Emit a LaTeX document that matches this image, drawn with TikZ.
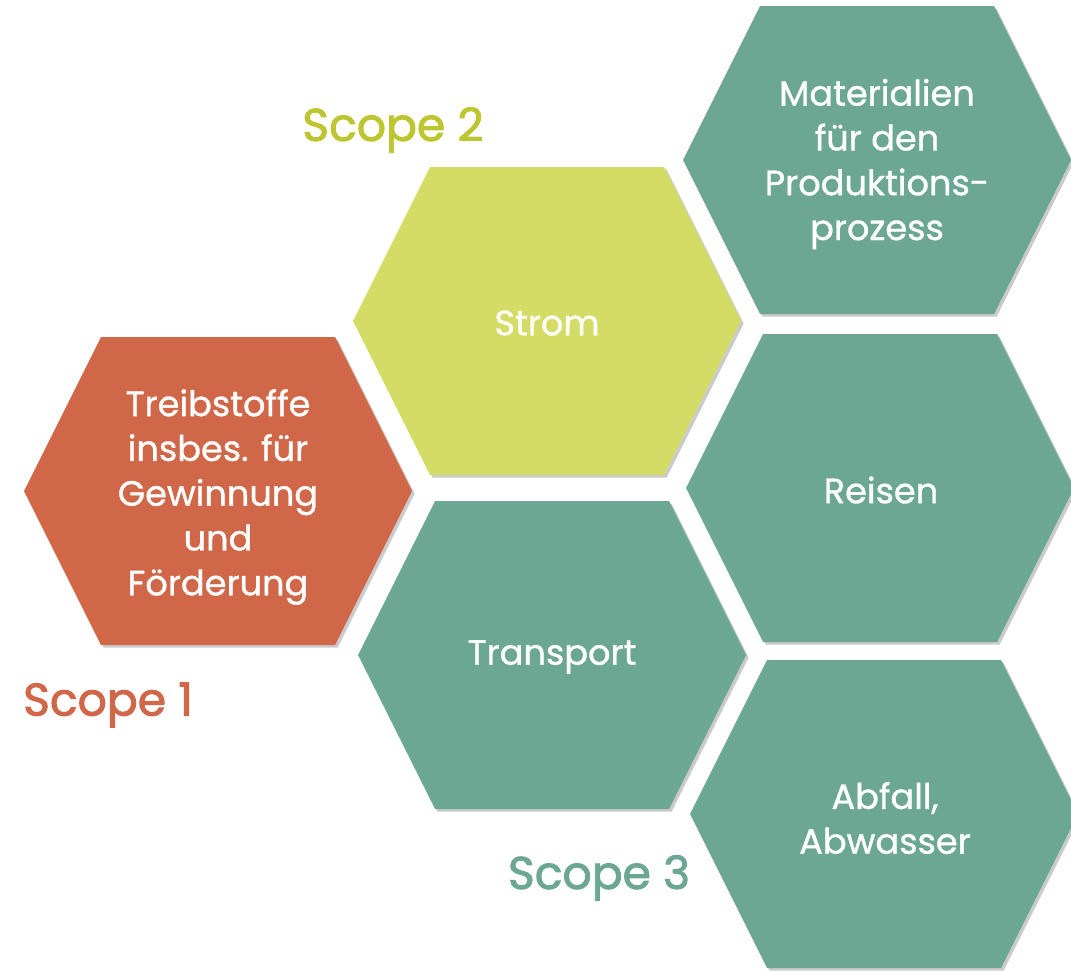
\documentclass[tikz,border=0pt]{standalone}
\usepackage{fontspec}
\setmainfont{Poppins}
\newfontfamily\hexfont{Poppins}[FakeBold=1]
\newfontfamily\scopefont{Poppins}[FakeBold=2]
\usetikzlibrary{shadows}

\definecolor{scopered}{HTML}{CF6748}
\definecolor{scopelime}{HTML}{D4DC66}
\definecolor{scopelimetext}{HTML}{BDC631}
\definecolor{scopeteal}{HTML}{6CA794}

\tikzset{
  hexcell/.style={fill=#1, drop shadow={shadow xshift=1.5pt, shadow yshift=-1.5pt, opacity=0.35, fill=black!60}},
  hexlabel/.style={text=white, align=center, font=\hexfont\fontsize{20}{25.5}\selectfont},
  scopelabel/.style={text=#1, font=\scopefont\fontsize{26}{30}\selectfont},
}

\begin{document}
\begin{tikzpicture}[x=0.02cm, y=-0.02cm]
\useasboundingbox (0,0) rectangle (1071,970);

\foreach \cx/\cy/\col in {218/491/scopered, 547/321/scopelime, 552/655/scopeteal,
  877/160/scopeteal, 880/488/scopeteal, 884/814/scopeteal}
  \path[hexcell=\col] (\cx,\cy) ++(-194,0) -- ++(77,-154) -- ++(234,0)
    -- ++(77,154) -- ++(-77,154) -- ++(-234,0) -- cycle;

\node (T1) at (218,497) [hexlabel] {Treibstoffe\\insbes. für\\Gewinnung\\und\\Förderung};
\node (T2) at (547,323) [hexlabel] {Strom};
\node (T3) at (552,657) [hexlabel] {Transport};
\node (M1) at (877,164) [hexlabel] {Materialien\\für den\\Produktions-\\prozess};
\node (R1) at (881,490) [hexlabel] {Reisen};
\node (A1) at (885,818) [hexlabel] {Abfall,\\Abwasser};

\node (S1) at (108,705) [scopelabel=scopered] {Scope 1};
\node (S2) at (393,130) [scopelabel=scopelimetext] {Scope 2};
\node (S3) at (599,878) [scopelabel=scopeteal] {Scope 3};
\end{tikzpicture}
\end{document}
